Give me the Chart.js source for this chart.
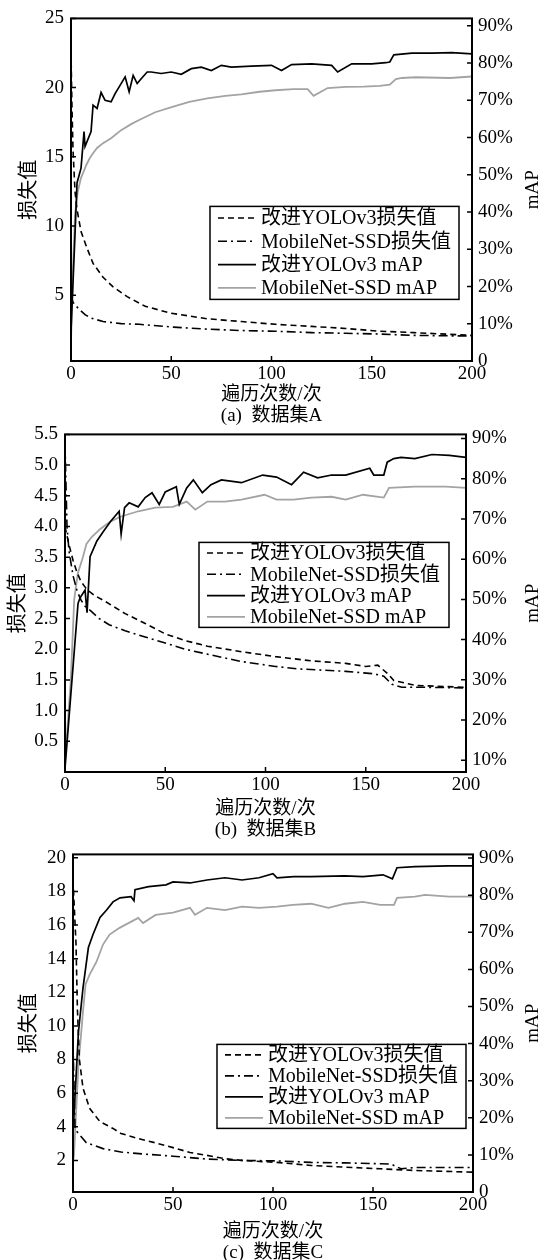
<!DOCTYPE html>
<html>
<head>
<meta charset="utf-8">
<script src="https://cdn.jsdelivr.net/npm/chart.js@4.4.1/dist/chart.umd.min.js"></script>
<style>
  body { margin: 0; background: #fff; width: 541px; height: 1260px; position: relative; overflow: hidden; }
  canvas { position: absolute; left: 0; }
</style>
</head>
<body>
<canvas id="chart-a" width="541" height="429" style="top:0px"></canvas>
<canvas id="chart-b" width="541" height="429" style="top:416px"></canvas>
<canvas id="chart-c" width="541" height="427" style="top:836px"></canvas>
<script>
// tick labels
const xTicks = [0, 50, 100, 150, 200];
const aLossTicks = [5, 10, 15, 20, 25];
const bLossTicks = [0.5, 1, 1.5, 2, 2.5, 3, 3.5, 4, 4.5, 5, 5.5];
const cLossTicks = [2, 4, 6, 8, 10, 12, 14, 16, 18, 20];
const aMapTicks = [0, 10, 20, 30, 40, 50, 60, 70, 80, 90];
const bMapTicks = [10, 20, 30, 40, 50, 60, 70, 80, 90];
const cMapTicks = [0, 10, 20, 30, 40, 50, 60, 70, 80, 90];

const seriesLabels = ["改进YOLOv3损失值", "MobileNet-SSD损失值", "改进YOLOv3 mAP", "MobileNet-SSD mAP"];
const xTitle = "遍历次数/次";

// (a) dataset A
const aYoloLossX = [0, 0.5, 1, 2, 3, 5, 8, 11, 16, 21, 28, 37, 50, 68, 85, 102, 120, 137, 154, 171, 200];
const aYoloLossY = [22.6, 18.5, 15.5, 12.5, 11.2, 9.6, 8.4, 7.3, 6.3, 5.6, 4.9, 4.2, 3.7, 3.3, 3.1, 2.9, 2.75, 2.6, 2.4, 2.3, 2.1];
const aSsdLossX = [0, 1, 2, 4, 7, 10, 16, 25, 34, 51, 68, 85, 102, 120, 137, 154, 171, 200];
const aSsdLossY = [5.0, 4.5, 4.3, 4.0, 3.6, 3.35, 3.1, 2.95, 2.9, 2.7, 2.55, 2.45, 2.4, 2.3, 2.25, 2.2, 2.1, 2.05];
const aYoloMapX = [0, 2, 3, 5, 6.5, 7, 10, 11, 13, 15, 17, 20, 22, 25, 27, 29, 31, 33, 35, 38, 40, 45, 50, 55, 60, 65, 70, 75, 80, 90, 100, 105, 110, 120, 130, 133, 140, 150, 157, 159, 161, 170, 180, 190, 200];
const aYoloMapY = [8, 34, 47.8, 51.8, 61.6, 57.6, 61.6, 68.7, 67.8, 72.1, 70.0, 69.6, 71.8, 74.5, 76.3, 72.3, 76.7, 74.5, 75.8, 77.6, 77.6, 77.2, 77.6, 77.0, 78.5, 78.9, 78.0, 79.4, 78.9, 79.2, 79.4, 78.0, 79.6, 79.8, 79.4, 77.6, 79.8, 79.8, 80.1, 80.3, 82.2, 82.7, 82.7, 82.8, 82.5];
const aSsdMapX = [0, 1, 2, 3.4, 5, 7.7, 9.4, 11, 13, 16, 20, 25, 30, 34, 42, 51, 59, 68, 77, 85, 94, 102, 111, 118, 121, 128, 137, 146, 154, 159, 162, 165, 172, 189, 200];
const aSsdMapY = [5, 25.2, 39.4, 45.6, 49.2, 52.7, 54.5, 55.8, 57.2, 58.5, 59.8, 62.0, 63.6, 64.7, 66.8, 68.3, 69.6, 70.5, 71.2, 71.6, 72.3, 72.7, 73.0, 73.0, 71.2, 73.3, 73.6, 73.7, 73.9, 74.2, 75.7, 76.0, 76.2, 76.0, 76.4];

// (b) dataset B
const bYoloLossX = [0, 1, 2, 4, 6, 8, 11, 15, 20, 30, 40, 50, 60, 71, 88, 105, 123, 140, 150, 156, 161, 164, 175, 200];
const bYoloLossY = [4.0, 3.85, 3.7, 3.45, 3.25, 3.1, 2.97, 2.87, 2.78, 2.58, 2.42, 2.25, 2.14, 2.05, 1.96, 1.88, 1.81, 1.77, 1.72, 1.74, 1.6, 1.49, 1.41, 1.38];
const bSsdLossX = [0, 1, 2, 4, 6, 8, 10, 13, 17, 22, 30, 40, 50, 60, 71, 88, 105, 116, 140, 154, 159, 163, 168, 180, 200];
const bSsdLossY = [5.35, 4.0, 3.6, 3.2, 2.95, 2.8, 2.7, 2.62, 2.5, 2.4, 2.3, 2.2, 2.1, 2.0, 1.92, 1.8, 1.72, 1.68, 1.64, 1.6, 1.56, 1.43, 1.38, 1.38, 1.37];
const bYoloMapX = [0, 6.5, 7.5, 10, 11, 12.5, 15.9, 19.3, 22.8, 27, 28, 29.7, 32, 36.5, 40, 43.4, 47, 50, 55.5, 57, 60.7, 64, 68.5, 72.8, 78, 88, 98.6, 105.5, 113, 119, 126, 133, 140, 152, 154, 159, 160.7, 164, 167.6, 174.5, 183, 191.7, 200];
const bYoloMapY = [8, 49, 50.4, 52.3, 46.7, 60.6, 64.5, 67, 69.4, 71.9, 66.2, 72.8, 74, 73, 75.3, 76.5, 73.6, 76.7, 78, 73.6, 77.7, 79.7, 76.5, 78.5, 79.7, 79, 80.9, 80.4, 78.5, 81.6, 80.2, 80.9, 80.9, 82.6, 80.9, 80.9, 84.1, 85, 85.3, 85, 86, 85.8, 85.3];
const bSsdMapX = [0, 2.9, 4.6, 6.4, 9, 10.7, 13.3, 17.6, 22.8, 28, 36.5, 45, 53.8, 60.7, 65, 71, 79.7, 88, 99.5, 105.5, 114, 122.8, 133, 140, 148.6, 159, 161.6, 174.5, 190, 200];
const bSsdMapY = [9.3, 30, 50, 56.5, 60.6, 63.8, 65.5, 67.5, 69.4, 70.6, 71.9, 72.8, 73, 74.3, 72.3, 74.3, 74.3, 74.8, 76, 74.8, 74.8, 75.3, 75.5, 74.8, 76, 75.3, 77.7, 78, 78, 77.7];

// (c) dataset C
const cYoloLossX = [0, 1.5, 2.2, 3.2, 5, 8.3, 13.5, 20, 24, 32.6, 41, 50, 58.5, 67, 76, 84.5, 102, 119, 136, 153.6, 171, 200];
const cYoloLossY = [18.7, 14.9, 11, 8.0, 6.3, 5.1, 4.3, 3.9, 3.6, 3.3, 3.05, 2.76, 2.47, 2.3, 2.1, 2.0, 1.88, 1.7, 1.6, 1.5, 1.4, 1.3];
const cSsdLossX = [0, 1, 1.7, 6.7, 15, 24, 33, 50, 67, 84, 102, 119, 136, 154, 159, 164, 171, 200];
const cSsdLossY = [9.0, 4.0, 3.75, 3.05, 2.7, 2.5, 2.4, 2.25, 2.08, 2.0, 1.97, 1.88, 1.85, 1.8, 1.78, 1.5, 1.58, 1.58];
const cYoloMapX = [0, 2.7, 5, 7.7, 10, 13.5, 16.8, 20, 23.5, 29, 30.5, 31, 37.8, 46.5, 50, 58.5, 67, 76, 84.5, 93, 100, 102, 110.4, 119, 136, 145, 155, 159.7, 162, 171, 188, 200];
const cYoloMapY = [15.6, 43, 55, 65.9, 69.4, 74, 76, 78.2, 79.3, 79.6, 78.5, 81.5, 82.3, 82.8, 83.6, 83.3, 84.1, 84.7, 84.1, 84.7, 85.8, 84.7, 85, 85, 85.2, 85, 85.5, 84.4, 87.4, 87.7, 87.9, 87.9];
const cSsdMapX = [0, 0.5, 2.7, 5, 6.3, 8.3, 11.7, 15, 18.3, 23.3, 32.6, 35, 41.3, 50, 58.5, 61, 67, 76, 84.5, 93, 102, 110, 119, 127.7, 136, 145, 153.6, 160.5, 162, 171, 176, 188, 200];
const cSsdMapY = [8, 10, 34, 48.7, 56, 58.6, 62, 66.7, 69.4, 71.2, 73.9, 72.5, 74.7, 75.3, 76.6, 74.7, 76.6, 76, 76.9, 76.6, 76.9, 77.4, 77.7, 76.6, 77.7, 78.2, 77.4, 77.4, 79.3, 79.6, 80.1, 79.6, 79.6];

const serifFamily = "'Liberation Serif', 'Noto Sans CJK SC', serif";
Chart.defaults.font.family = serifFamily;
Chart.defaults.color = "#000";

const lineStyles = [
  { borderColor: "#000", borderWidth: 1.6, borderDash: [6, 4], yAxisID: "loss" },
  { borderColor: "#000", borderWidth: 1.6, borderDash: [9, 4, 2, 4], yAxisID: "loss" },
  { borderColor: "#000", borderWidth: 1.7, borderDash: [], yAxisID: "map" },
  { borderColor: "#a3a3a3", borderWidth: 1.8, borderDash: [], yAxisID: "map" },
];

function pairs(xs, ys) {
  return xs.map((x, i) => ({ x, y: ys[i] }));
}

function fixedTicks(values) {
  return (scale) => {
    scale.ticks = values.map((v) => ({ value: v }));
  };
}

// box, line and inward tick marks like the original figure
const framePlugin = {
  id: "frame",
  afterDatasetsDraw(chart) {
    const { ctx, chartArea: a, scales } = chart;
    ctx.save();
    ctx.strokeStyle = "#000";
    ctx.lineWidth = 1.5;
    ctx.beginPath();
    scales.x.ticks.forEach((t) => {
      const px = scales.x.getPixelForValue(t.value);
      ctx.moveTo(px, a.bottom);
      ctx.lineTo(px, a.bottom - 5);
    });
    scales.loss.ticks.forEach((t) => {
      const py = scales.loss.getPixelForValue(t.value);
      ctx.moveTo(a.left, py);
      ctx.lineTo(a.left + 5, py);
    });
    scales.map.ticks.forEach((t) => {
      const py = scales.map.getPixelForValue(t.value);
      ctx.moveTo(a.right, py);
      ctx.lineTo(a.right - 5, py);
    });
    ctx.stroke();
    ctx.lineWidth = 2;
    ctx.strokeRect(a.left, a.top, a.right - a.left, a.bottom - a.top);
    ctx.restore();
  },
};

const boxLegendPlugin = {
  id: "boxLegend",
  afterDraw(chart, args, opts) {
    const { ctx, chartArea: a } = chart;
    const left = a.left + opts.left;
    const top = a.top + opts.top;
    const datasets = chart.data.datasets;
    const rowH = opts.height / datasets.length;
    ctx.save();
    ctx.fillStyle = "#fff";
    ctx.fillRect(left, top, opts.width, opts.height);
    ctx.strokeStyle = "#000";
    ctx.lineWidth = 1.5;
    ctx.strokeRect(left, top, opts.width, opts.height);
    datasets.forEach((ds, i) => {
      const y = top + rowH * (i + 0.5);
      ctx.beginPath();
      ctx.setLineDash(ds.borderDash);
      ctx.lineWidth = ds.borderWidth;
      ctx.strokeStyle = ds.borderColor;
      ctx.moveTo(left + 8, y);
      ctx.lineTo(left + 46, y);
      ctx.stroke();
      ctx.setLineDash([]);
      ctx.fillStyle = "#000";
      ctx.font = `20px ${serifFamily}`;
      ctx.textBaseline = "middle";
      ctx.fillText(ds.label, left + 51, y + 1);
    });
    ctx.restore();
  },
};

const rightTitlePlugin = {
  id: "rightTitle",
  afterDraw(chart, args, opts) {
    const { ctx, chartArea: a } = chart;
    ctx.save();
    ctx.translate(opts.x, (a.top + a.bottom) / 2);
    ctx.rotate(-Math.PI / 2);
    ctx.font = `19px ${serifFamily}`;
    ctx.fillStyle = "#000";
    ctx.textAlign = "center";
    ctx.textBaseline = "middle";
    ctx.fillText(opts.text, 0, 0);
    ctx.restore();
  },
};

function buildChart(spec) {
  const canvas = document.getElementById(spec.id);
  const area = spec.area;
  const width = canvas.width;
  const height = canvas.height;

  return new Chart(canvas, {
    type: "line",
    data: {
      datasets: spec.series.map((s, i) => ({
        label: seriesLabels[i],
        data: pairs(s[0], s[1]),
        ...lineStyles[i],
        pointRadius: 0,
        tension: 0,
        fill: false,
      })),
    },
    options: {
      responsive: false,
      animation: false,
      events: [],
      layout: {
        autoPadding: false,
        padding: { top: area.top, left: 0, right: 0, bottom: 0 },
      },
      plugins: {
        legend: { display: false },
        tooltip: { enabled: false },
        boxLegend: spec.legend,
        rightTitle: { text: "mAP", x: 533 },
      },
      scales: {
        x: {
          type: "linear",
          position: "bottom",
          min: 0,
          max: 200,
          afterBuildTicks: fixedTicks(xTicks),
          afterFit: (scale) => { scale.height = height - area.bottom; },
          grid: { display: false, drawTicks: false },
          border: { display: false },
          ticks: { padding: 2, font: { size: 19 }, maxRotation: 0, autoSkip: false },
          title: {
            display: true,
            text: [xTitle, spec.caption],
            font: { size: 19, lineHeight: 1.1 },
            padding: { top: 0, bottom: spec.captionPad },
          },
        },
        loss: {
          type: "linear",
          position: "left",
          min: spec.lossRange[0],
          max: spec.lossRange[1],
          afterBuildTicks: fixedTicks(spec.lossTicks),
          afterFit: (scale) => { scale.width = area.left; },
          grid: { display: false, drawTicks: false },
          border: { display: false },
          ticks: {
            padding: 7,
            font: { size: 19 },
            callback: (v) => (spec.lossDecimals ? v.toFixed(1) : String(v)),
          },
          title: {
            display: true,
            text: "损失值",
            font: { size: 20 },
            padding: { top: spec.lossTitlePad, bottom: 0 },
          },
        },
        map: {
          type: "linear",
          position: "right",
          min: spec.mapRange[0],
          max: spec.mapRange[1],
          afterBuildTicks: fixedTicks(spec.mapTicks),
          afterFit: (scale) => { scale.width = width - area.right; },
          grid: { display: false, drawTicks: false },
          border: { display: false },
          ticks: {
            padding: 6,
            font: { size: 19 },
            callback: (v) => (v === 0 ? "0" : `${v}%`),
          },
        },
      },
    },
    plugins: [framePlugin, boxLegendPlugin, rightTitlePlugin],
  });
}

buildChart({
  id: "chart-a",
  area: { left: 71, right: 472, top: 17, bottom: 361 },
  caption: "(a)  数据集A",
  captionPad: 2.5,
  lossRange: [0.25, 25],
  lossTicks: aLossTicks,
  lossDecimals: false,
  lossTitlePad: 18,
  mapRange: [0, 92],
  mapTicks: aMapTicks,
  legend: { left: 139, top: 188, width: 249, height: 93 },
  series: [[aYoloLossX, aYoloLossY], [aSsdLossX, aSsdLossY], [aYoloMapX, aYoloMapY], [aSsdMapX, aSsdMapY]],
});

buildChart({
  id: "chart-b",
  area: { left: 65, right: 466, top: 13, bottom: 356 },
  caption: "(b)  数据集B",
  captionPad: 4.5,
  lossRange: [0, 5.5],
  lossTicks: bLossTicks,
  lossDecimals: true,
  lossTitlePad: 7,
  mapRange: [7.1, 91],
  mapTicks: bMapTicks,
  legend: { left: 134, top: 108, width: 250, height: 85 },
  series: [[bYoloLossX, bYoloLossY], [bSsdLossX, bSsdLossY], [bYoloMapX, bYoloMapY], [bSsdMapX, bSsdMapY]],
});

buildChart({
  id: "chart-c",
  area: { left: 73, right: 473, top: 14, bottom: 356 },
  caption: "(c)  数据集C",
  captionPad: 0,
  lossRange: [0.12, 20.2],
  lossTicks: cLossTicks,
  lossDecimals: false,
  lossTitlePad: 18,
  mapRange: [0, 91],
  mapTicks: cMapTicks,
  legend: { left: 144, top: 190, width: 249, height: 84 },
  series: [[cYoloLossX, cYoloLossY], [cSsdLossX, cSsdLossY], [cYoloMapX, cYoloMapY], [cSsdMapX, cSsdMapY]],
});
</script>
</body>
</html>
